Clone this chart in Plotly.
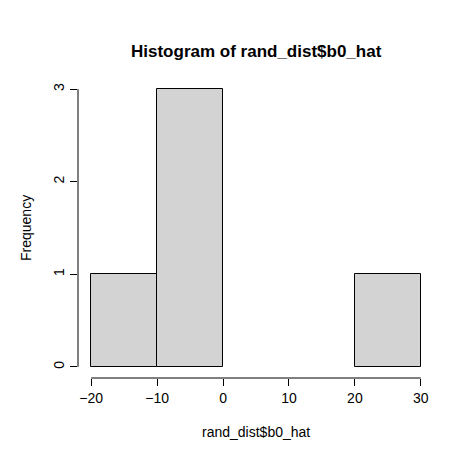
import plotly.graph_objects as go

bin_centers = [-15, -5, 5, 15, 25]
counts = [1, 3, 0, 0, 1]
x_ticks = [-20, -10, 0, 10, 20, 30]
y_ticks = [0, 1, 2, 3]

font = "Liberation Sans, Arial, sans-serif"

fig = go.Figure(go.Bar(
    x=bin_centers, y=counts, width=10,
    marker=dict(color="#D3D3D3",
                line=dict(color="black", width=[1 if c > 0 else 0 for c in counts])),
))

fig.update_layout(
    width=474, height=474,
    margin=dict(l=70, r=48, t=70, b=104),
    plot_bgcolor="white", paper_bgcolor="white",
    showlegend=False,
    font=dict(family=font, size=14, color="black"),
    bargap=0,
)
fig.update_xaxes(range=[-22, 32], tickvals=x_ticks, ticks="outside", ticklen=7,
                 tickcolor="black", showgrid=False, zeroline=False, showline=False)
fig.update_yaxes(range=[-0.12, 3.12], tickvals=y_ticks, ticks="outside", ticklen=7,
                 tickcolor="black", tickangle=-90, showgrid=False, zeroline=False,
                 showline=False)

# R-style axis lines spanning only the tick range
fig.add_shape(type="line", xref="x", yref="paper", x0=x_ticks[0], x1=x_ticks[-1],
              y0=0, y1=0, line=dict(color="black", width=1))
fig.add_shape(type="line", xref="paper", yref="y", x0=0, x1=0,
              y0=y_ticks[0], y1=y_ticks[-1], line=dict(color="black", width=1))

fig.add_annotation(text="<b>Histogram of rand_dist$b0_hat</b>", xref="paper", yref="paper",
                   x=0.5, y=1, yshift=38, showarrow=False, font=dict(size=17))
fig.add_annotation(text="rand_dist$b0_hat", xref="paper", yref="paper",
                   x=0.5, y=0, yshift=-64, showarrow=False, font=dict(size=14))
fig.add_annotation(text="Frequency", xref="paper", yref="paper", textangle=-90,
                   x=0, y=0.5, xshift=-62, showarrow=False, font=dict(size=14))

fig.write_html("out.html")
